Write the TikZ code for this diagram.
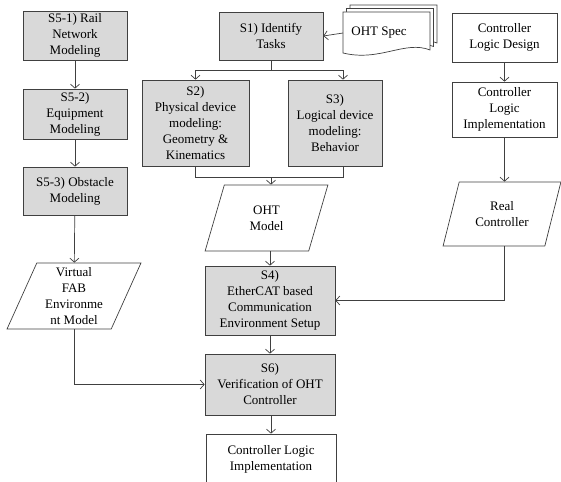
\documentclass[tikz,border=0pt]{standalone}
\usepackage{fontspec}
\setmainfont{Liberation Serif}
\usetikzlibrary{arrows.meta,shapes.geometric}
\begin{document}
\begin{tikzpicture}[x=1pt,y=-1pt,line width=0.7pt,draw=black!75,
    >={Straight Barb[length=4pt,width=9pt]},
    every node/.style={font=\fontsize{13}{16}\selectfont,align=center,inner sep=1pt},
    stepbox/.style={draw,rectangle},
    greybox/.style={stepbox,fill=black!15},
    iobox/.style={draw,trapezium,trapezium stretches=true}]
        \useasboundingbox (0,0) rectangle (561,481);
        %% left column
        \node[greybox,minimum width=104,minimum height=49] (s51) at (75,35.5) {S5-1) Rail\\Network\\Modeling};
        \node[greybox,minimum width=104,minimum height=50] (s52) at (75,114) {S5-2)\\Equipment\\Modeling};
        \node[greybox,minimum width=104,minimum height=48] (s53) at (75,191) {S5-3) Obstacle\\Modeling};
        \node[iobox,trapezium left angle=68,trapezium right angle=112,minimum width=134,minimum height=66] (fab) at (74,296) {Virtual\\FAB\\Environme\\nt Model};
        %% spec document
        \foreach \o in {7,3.5,0}
            \draw[fill=white,shift={(\o,-\o)}] (343,12) -- (430,12) -- (430,50) .. controls (405,40) and (380,62) .. (343,53) -- cycle;
        \node (spec) at (379,33) {OHT Spec};
        %% middle column
        \node[greybox,minimum width=104,minimum height=48] (s1) at (271,36) {S1) Identify\\Tasks};
        \node[greybox,minimum width=107,minimum height=86] (s2) at (195.5,123) {S2)\\Physical device\\modeling:\\Geometry \&\\Kinematics};
        \node[greybox,minimum width=94,minimum height=86] (s3) at (335,123) {S3)\\Logical device\\modeling:\\Behavior};
        \node[iobox,trapezium left angle=73,trapezium right angle=107,minimum width=123,minimum height=66] (oht) at (266.5,218) {OHT\\Model};
        \node[greybox,minimum width=130,minimum height=69] (s4) at (270,300.5) {S4)\\EtherCAT based\\Communication\\Environment Setup};
        \node[greybox,minimum width=130,minimum height=61] (s6) at (270,384.5) {S6)\\Verification of OHT\\Controller};
        \node[stepbox,minimum width=130,minimum height=50] (fin) at (271,459) {Controller Logic\\Implementation};
        %% right column
        \node[stepbox,minimum width=105,minimum height=49] (cld) at (504.5,37.5) {Controller\\Logic Design};
        \node[stepbox,minimum width=105,minimum height=55] (cli) at (504.5,109.5) {Controller\\Logic\\Implementation};
        \node[iobox,trapezium left angle=69,trapezium right angle=111,minimum width=118,minimum height=64] (real) at (502,214) {Real\\Controller};
        %% arrows
        \draw[->] (s51) -- (s52);
        \draw[->] (s52) -- (s53);
        \draw[->] (s53) -- (fab);
        \draw[->] (fab.south) |- (s6.west);
        \draw[->] (spec.west -| 343,0) -- (s1.east);
        \draw (s1.south) -- ++(0,10) coordinate (split);
        \draw[->] (split) -| (s2.north);
        \draw[->] (split) -| ([xshift=8]s3.north);
        \draw (s2.south) |- ++(0,11) coordinate (merge) -| ([xshift=8]s3.south);
        \draw[->] (merge -| s1.south) -- (s1.south |- oht.north);
        \draw[->] (oht.south -| s4.north) -- (s4.north);
        \draw[->] (s4) -- (s6);
        \draw[->] (s6.south -| fin.north) -- (fin.north);
        \draw[->] (cld) -- (cli);
        \draw[->] (cli.south) -- (cli.south |- real.north);
        \draw[->] (real.south -| cli.south) |- (s4.east);
    \end{tikzpicture}
\end{document}
